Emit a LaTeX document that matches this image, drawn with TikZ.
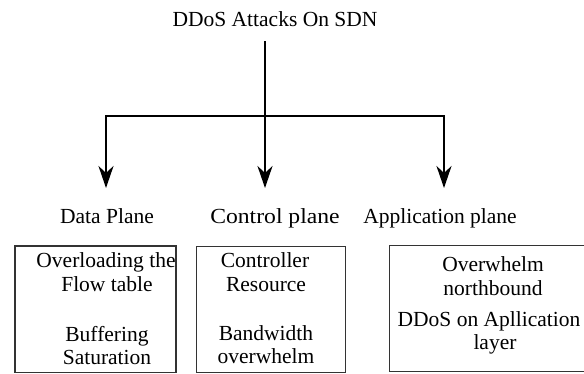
\documentclass[tikz,border=0pt]{standalone}
\usepackage{fontspec}
\setmainfont{Liberation Serif}
\usetikzlibrary{arrows.meta}
\begin{document}
\begin{tikzpicture}[x=1pt,y=-1pt,
  txt/.style={font=\fontsize{21.5}{24}\selectfont, inner sep=0pt, anchor=base},
  frame/.style={draw=black!80, line width=1.2pt, anchor=north west, inner sep=0pt},
  link/.style={line width=2.5pt, line join=miter},
  tip/.style={-{Stealth[length=22pt,width=15pt,inset=7pt]}}]
\useasboundingbox[fill=white] (0,0) rectangle (584,373);

% title and branching connectors
\node[txt] (root) at (275,26) {DDoS Attacks On SDN};
\coordinate (top) at (265,41);
\coordinate (hub) at (265,116);
\coordinate (e1) at (106,188);
\coordinate (e2) at (265,188);
\coordinate (e3) at (444,188);
\draw[link] (top) -- (hub);
\draw[link,tip] (hub) -| (e1);
\draw[link,tip] (hub) -- (e2);
\draw[link,tip] (hub) -| (e3);

% plane labels
\node[txt] (dp) at (107,223) {Data Plane};
\node[txt] (cp) at (275,223) {\scalebox{1.1}[1]{Control plane}};
\node[txt] (ap) at (440,223) {Application plane};

% attack boxes
\node[frame, minimum width=160pt, minimum height=126pt] (b1) at (15,245.5) {};
\node[frame, minimum width=149pt, minimum height=126pt] (b2) at (196,245.5) {};
\node[frame, minimum width=215pt, minimum height=126pt] (b3) at (389,244.5) {};

\begin{scope}
  \clip (b1.north west) rectangle (b1.south east);
  \node[txt] (d1) at (106,267.5) {Overloading the};
  \node[txt] (d2) at (107,291.5) {Flow table};
  \node[txt] (d3) at (107,341.5) {Buffering};
  \node[txt] (d4) at (107,364.5) {Saturation};
\end{scope}

\node[txt] (c1) at (265,267) {Controller};
\node[txt] (c2) at (266,291.5) {Resource};
\node[txt] (c3) at (266,340) {Bandwidth};
\node[txt] (c4) at (266,363.5) {overwhelm};

\node[txt] (a1) at (493,271.5) {Overwhelm};
\node[txt] (a2) at (493,295) {northbound};
\node[txt] (a3) at (489,326.5) {DDoS on Apllication};
\node[txt] (a4) at (495,349) {layer};

% redraw the first frame above its clipped text
\draw[black!80, line width=1.2pt] (b1.north west) rectangle (b1.south east);
\end{tikzpicture}
\end{document}
